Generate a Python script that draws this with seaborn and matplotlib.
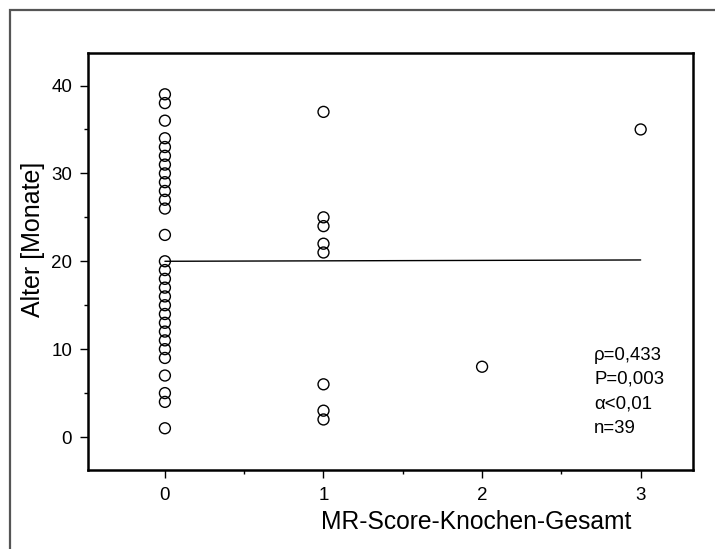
import matplotlib
matplotlib.use("Agg")
import matplotlib.pyplot as plt
import seaborn as sns
import pandas as pd
from matplotlib.patches import Rectangle
from matplotlib.ticker import MultipleLocator

sns.set_theme(style="white")
plt.rcParams['font.family'] = ['Liberation Sans', 'DejaVu Sans']

# Data
score_0 = [1, 4, 5, 7, 9, 10, 11, 12, 13, 14, 15, 16, 17, 18, 19, 20, 23,
           26, 27, 28, 29, 30, 31, 32, 33, 34, 36, 38, 39]
score_1 = [2, 3, 6, 21, 22, 24, 25, 37]
score_2 = [8]
score_3 = [35]
scores = [0] * len(score_0) + [1] * len(score_1) + [2] * len(score_2) + [3] * len(score_3)
ages = score_0 + score_1 + score_2 + score_3
line_x = [0, 3]
line_y = [20.0, 20.15]
stats_lines = ["ρ=0,433", "P=0,003", "α<0,01", "n=39"]
x_ticks = [0, 1, 2, 3]
y_ticks = [0, 10, 20, 30, 40]

df = pd.DataFrame({"score": scores, "age": ages})

W, H = 715, 549
fig = plt.figure(figsize=(W / 100, H / 100), dpi=100)
fig.patch.set_facecolor("white")

# outer gray frame (cropped at right and bottom)
fig.patches.append(Rectangle((10 / W, -0.1), 1.2, 1 - 10 / H + 0.1,
                             transform=fig.transFigure, fill=False,
                             edgecolor="#555555", linewidth=1.6, zorder=0))

ax = fig.add_axes([88 / W, 1 - 470 / H, (693 - 88) / W, (470 - 53) / H])
ax.set_facecolor("white")

sns.lineplot(x=line_x, y=line_y, ax=ax, color="black", linewidth=1.0)
sns.scatterplot(data=df, x="score", y="age", ax=ax, marker="o", s=62,
                facecolor="none", edgecolor="black", linewidth=1.0, zorder=3)

ax.set_xlim(-0.485, 3.33)
ax.set_ylim(-3.75, 43.7)
ax.set_xticks(x_ticks)
ax.set_yticks(y_ticks)
ax.xaxis.set_minor_locator(MultipleLocator(0.5))
ax.yaxis.set_minor_locator(MultipleLocator(5))
ax.tick_params(axis="both", which="major", direction="out", length=5.5,
               width=1.0, color="black", labelsize=13.5, labelcolor="black", pad=7)
ax.tick_params(axis="both", which="minor", direction="out", length=3,
               width=1.0, color="black")
ax.tick_params(axis="y", which="major", pad=6)
ax.tick_params(bottom=True, left=True, which="both")

for sp in ax.spines.values():
    sp.set_visible(True)
    sp.set_color("black")
    sp.set_linewidth(1.8)

ax.set_xlabel("MR-Score-Knochen-Gesamt", fontsize=17.7, color="black")
ax.set_ylabel("Alter [Monate]", fontsize=18, color="black")
ax.xaxis.set_label_coords((476 - 88) / (693 - 88), -(522 - 470) / (470 - 53), transform=ax.transAxes)
ax.yaxis.set_label_coords(-(88 - 33) / (693 - 88), (470 - 239) / (470 - 53), transform=ax.transAxes)
ax.xaxis.label.set_va("center")
ax.yaxis.label.set_va("center")
ax.grid(False)

for i, t in enumerate(stats_lines):
    ax.text(594 / W, 1 - (355 + i * 24.5) / H, t, transform=fig.transFigure,
            fontsize=13.4, color="black", va="center", ha="left")

fig.savefig("out.png", dpi=100, facecolor="white")
